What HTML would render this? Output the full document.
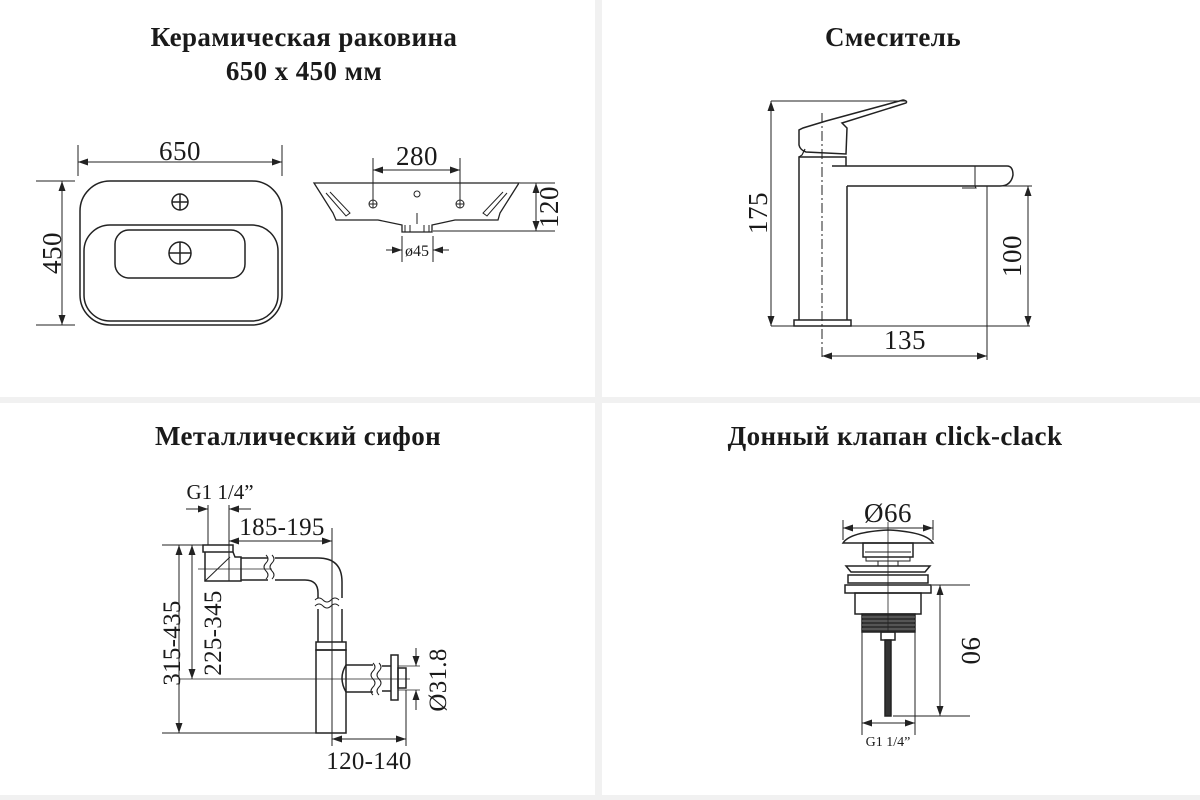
<!DOCTYPE html>
<html><head><meta charset="utf-8"><style>
html,body{margin:0;padding:0;background:#fff}
svg{display:block}
text{font-family:"Liberation Serif","DejaVu Serif",serif;fill:#1a1a1a}
.t{font-weight:bold;font-size:27px;letter-spacing:0.4px}
.d{font-size:27px;letter-spacing:0.5px}
.s{font-size:25px;letter-spacing:0.3px}
</style></head><body>
<svg width="1200" height="800" viewBox="0 0 1200 800" xmlns="http://www.w3.org/2000/svg">
<defs>
<marker id="a" viewBox="0 0 10 10" refX="10" refY="5" markerWidth="10" markerHeight="10" orient="auto-start-reverse" markerUnits="userSpaceOnUse"><path d="M0,1.5 L10,5 L0,8.5 z" fill="#222"/></marker>
</defs>
<rect width="1200" height="800" fill="#fff"/>
<rect x="595" y="0" width="7" height="800" fill="#f1f1f1"/>
<rect x="0" y="397" width="1200" height="6" fill="#f1f1f1"/>
<rect x="0" y="795" width="1200" height="5" fill="#f1f1f1"/>

<text class="t" x="304" y="46" text-anchor="middle">Керамическая раковина</text>
<text class="t" x="304" y="80" text-anchor="middle">650 x 450 мм</text>
<text class="t" x="893" y="46" text-anchor="middle">Смеситель</text>
<text class="t" x="298" y="445" text-anchor="middle">Металлический сифон</text>
<text class="t" x="895" y="445" text-anchor="middle">Донный клапан click-clack</text>

<g stroke="#222" stroke-width="1.5" fill="none">
<!-- sink top view -->
<line x1="78" y1="145" x2="78" y2="176" stroke-width="1"/>
<line x1="282" y1="145" x2="282" y2="176" stroke-width="1"/>
<line x1="78" y1="162" x2="282" y2="162" stroke-width="1" marker-start="url(#a)" marker-end="url(#a)"/>
<line x1="36" y1="181" x2="75" y2="181" stroke-width="1"/>
<line x1="36" y1="325" x2="75" y2="325" stroke-width="1"/>
<line x1="62" y1="181" x2="62" y2="325" stroke-width="1" marker-start="url(#a)" marker-end="url(#a)"/>
<rect x="80" y="181" width="202" height="144" rx="30"/>
<rect x="84" y="225" width="194" height="96" rx="26"/>
<rect x="115" y="230" width="130" height="48" rx="14"/>
<circle cx="180" cy="202" r="8"/><path d="M172 202h16M180 194v16"/>
<circle cx="180" cy="253" r="11"/><path d="M169 253h22M180 242v22"/>

<!-- sink side view -->
<path d="M314 183 L519 183 L500 213 L498 220 L455 220 L432 225 L432 232 L402 232 L402 225 L378 220 L336 220 L333 213 Z" stroke-width="1.3"/>
<path d="M330 192 L350 213 L346 216 L326 193" stroke-width="1"/>
<path d="M503 192 L483 213 L487 216 L507 193" stroke-width="1"/>
<path d="M405 225 L405 232 M429 225 L429 232 M410 225 L410 232 M424 225 L424 232" stroke-width="1"/>
<line x1="373" y1="158" x2="373" y2="200" stroke-width="1"/>
<line x1="460" y1="158" x2="460" y2="200" stroke-width="1"/>
<line x1="373" y1="170" x2="460" y2="170" stroke-width="1" marker-start="url(#a)" marker-end="url(#a)"/>
<circle cx="373" cy="204" r="4" stroke-width="1"/><path d="M369 204h8M373 200v8" stroke-width="1"/>
<circle cx="460" cy="204" r="4" stroke-width="1"/><path d="M456 204h8M460 200v8" stroke-width="1"/>
<circle cx="417" cy="194" r="3" stroke-width="1"/>
<line x1="417" y1="213" x2="417" y2="224" stroke-width="1"/>
<line x1="520" y1="183" x2="555" y2="183" stroke-width="1"/>
<line x1="433" y1="231" x2="555" y2="231" stroke-width="1"/>
<line x1="536" y1="183" x2="536" y2="231" stroke-width="1" marker-start="url(#a)" marker-end="url(#a)"/>
<line x1="402" y1="236" x2="402" y2="262" stroke-width="1"/>
<line x1="433" y1="236" x2="433" y2="262" stroke-width="1"/>
<line x1="386" y1="250" x2="402" y2="250" stroke-width="1" marker-end="url(#a)"/>
<line x1="449" y1="250" x2="433" y2="250" stroke-width="1" marker-end="url(#a)"/>

<!-- faucet -->
<line x1="771" y1="101" x2="906" y2="101" stroke-width="1"/>
<line x1="771" y1="326" x2="1030" y2="326" stroke-width="1"/>
<line x1="771" y1="101" x2="771" y2="326" stroke-width="1" marker-start="url(#a)" marker-end="url(#a)"/>
<rect x="794" y="320" width="57" height="6"/>
<path d="M799 320 L799 157 L846 157 L846 166 M847 186 L847 320"/>
<path d="M832 166 L1007 166 Q1013 166 1013 175 Q1011 186 1000 186 L847 186"/>
<path d="M975 166 L975 186 M975 186 L976 188 L962 188" stroke-width="1"/>
<path d="M799 130 L799 145 Q800 150 806 152 L846 154 L847 128 L842 123 L906 103 Q908 101 903 100 L826 121 L803 128 Z"/>
<path d="M805 149 L802 155 L799 157" stroke-width="1.2"/>
<line x1="822" y1="113" x2="822" y2="360" stroke-width="1" stroke-dasharray="10 3 2 3"/>
<line x1="987" y1="186" x2="987" y2="360" stroke-width="1"/>
<line x1="822" y1="356" x2="987" y2="356" stroke-width="1" marker-start="url(#a)" marker-end="url(#a)"/>
<line x1="975" y1="186" x2="1032" y2="186" stroke-width="1"/>
<line x1="1028" y1="186" x2="1028" y2="326" stroke-width="1" marker-start="url(#a)" marker-end="url(#a)"/>

<!-- siphon -->
<line x1="208" y1="505" x2="208" y2="545" stroke-width="1"/>
<line x1="229" y1="505" x2="229" y2="545" stroke-width="1"/>
<line x1="186" y1="509" x2="208" y2="509" stroke-width="1" marker-end="url(#a)"/>
<line x1="251" y1="509" x2="229" y2="509" stroke-width="1" marker-end="url(#a)"/>
<line x1="229" y1="541" x2="332" y2="541" stroke-width="1" marker-start="url(#a)" marker-end="url(#a)"/>
<line x1="332" y1="528" x2="332" y2="746" stroke-width="1"/>
<rect x="203" y="545" width="30" height="7"/>
<path d="M205 552 L205 581 L241 581 L241 557 L235 557 L233 552"/>
<path d="M205 581 L230 557" stroke-width="1"/>
<line x1="229" y1="545" x2="229" y2="581" stroke-width="1"/>
<line x1="198" y1="569" x2="272" y2="569" stroke-width="0.8"/>
<path d="M241 558 L268 558 M241 580 L268 580"/>
<path d="M266 555 q4 4 0 8 q-4 4 0 8 q4 4 0 8 M272 555 q4 4 0 8 q-4 4 0 8 q4 4 0 8" stroke-width="1"/>
<path d="M275 558 L318 558 Q342 558 342 582 L342 598 M275 580 L305 580 Q318 580 318 593 L318 598"/>
<path d="M315 600 q4 -4 8 0 q4 4 8 0 q4 -4 8 0 M315 606 q4 -4 8 0 q4 4 8 0 q4 -4 8 0" stroke-width="1"/>
<path d="M318 609 L318 642 M342 609 L342 642"/>
<rect x="316" y="642" width="30" height="8"/>
<rect x="316" y="650" width="30" height="83"/>
<path d="M346 665 L373 665 M346 692 L373 692 M346 665 Q338 678 346 692" />
<path d="M373 663 q4 4 0 8 q-4 4 0 8 q4 4 0 8 q-4 4 0 8 M379 663 q4 4 0 8 q-4 4 0 8 q4 4 0 8 q-4 4 0 8" stroke-width="1"/>
<path d="M382 666 L391 666 M382 691 L391 691"/>
<rect x="391" y="655" width="7" height="45"/>
<rect x="398" y="668" width="8" height="20"/>
<line x1="180" y1="679" x2="410" y2="679" stroke-width="0.8"/>
<line x1="416" y1="648" x2="416" y2="666" stroke-width="1" marker-end="url(#a)"/>
<line x1="416" y1="710" x2="416" y2="690" stroke-width="1" marker-end="url(#a)"/>
<line x1="398" y1="666" x2="420" y2="666" stroke-width="0.8"/>
<line x1="398" y1="690" x2="420" y2="690" stroke-width="0.8"/>
<line x1="162" y1="545" x2="205" y2="545" stroke-width="1"/>
<line x1="162" y1="733" x2="316" y2="733" stroke-width="1"/>
<line x1="179" y1="545" x2="179" y2="733" stroke-width="1" marker-start="url(#a)" marker-end="url(#a)"/>
<line x1="192" y1="545" x2="192" y2="679" stroke-width="1" marker-start="url(#a)" marker-end="url(#a)"/>
<line x1="406" y1="690" x2="406" y2="746" stroke-width="1"/>
<line x1="332" y1="739" x2="406" y2="739" stroke-width="1" marker-start="url(#a)" marker-end="url(#a)"/>

<!-- drain valve -->
<line x1="843" y1="520" x2="843" y2="540" stroke-width="1"/>
<line x1="933" y1="520" x2="933" y2="540" stroke-width="1"/>
<line x1="843" y1="528" x2="933" y2="528" stroke-width="1" marker-start="url(#a)" marker-end="url(#a)"/>
<path d="M843 543 Q850 532 888 530 Q926 532 933 543 Z"/>
<rect x="863" y="543" width="50" height="14"/>
<path d="M865 552 L911 552 M866 557 L910 557 L910 561 L866 561 Z" stroke-width="1"/>
<path d="M878 561 L878 566 M898 561 L898 566" stroke-width="1"/>
<path d="M846 566 L930 566 L925 572 L851 572 Z"/>
<rect x="848" y="575" width="80" height="8"/>
<rect x="845" y="585" width="86" height="8"/>
<rect x="855" y="593" width="66" height="21"/>
<rect x="862" y="614" width="53" height="18" fill="#333"/>
<path d="M862 617h53M862 621h53M862 625h53M862 629h53" stroke="#777" stroke-width="1"/>
<rect x="881" y="632" width="14" height="8"/>
<rect x="885" y="640" width="6" height="76" fill="#333"/>
<line x1="888" y1="522" x2="888" y2="632" stroke-width="0.8"/>
<line x1="862" y1="632" x2="862" y2="735" stroke-width="1"/>
<line x1="915" y1="632" x2="915" y2="735" stroke-width="1"/>
<line x1="862" y1="723" x2="915" y2="723" stroke-width="1" marker-start="url(#a)" marker-end="url(#a)"/>
<line x1="932" y1="585" x2="970" y2="585" stroke-width="1"/>
<line x1="893" y1="716" x2="970" y2="716" stroke-width="1"/>
<line x1="940" y1="585" x2="940" y2="716" stroke-width="1" marker-start="url(#a)" marker-end="url(#a)"/>
</g>

<text class="d" x="180" y="160" text-anchor="middle">650</text>
<text class="d" transform="translate(61,253) rotate(-90)" text-anchor="middle">450</text>
<text class="d" x="417" y="165" text-anchor="middle">280</text>
<text class="d" transform="translate(558,207) rotate(-90)" text-anchor="middle">120</text>
<text x="417" y="256" text-anchor="middle" style="font-size:16px">ø45</text>
<text class="d" transform="translate(767,213) rotate(-90)" text-anchor="middle">175</text>
<text class="d" transform="translate(1021,256) rotate(-90)" text-anchor="middle">100</text>
<text class="d" x="905" y="349" text-anchor="middle">135</text>
<text x="220" y="499" text-anchor="middle" style="font-size:21px">G1 1/4”</text>
<text class="s" x="282" y="535" text-anchor="middle">185-195</text>
<text class="s" transform="translate(180,643) rotate(-90)" text-anchor="middle">315-435</text>
<text class="s" transform="translate(221,633) rotate(-90)" text-anchor="middle">225-345</text>
<text class="s" transform="translate(446,680) rotate(-90)" text-anchor="middle">Ø31.8</text>
<text class="s" x="369" y="769" text-anchor="middle">120-140</text>
<text class="d" x="888" y="522" text-anchor="middle">Ø66</text>
<text class="d" transform="translate(962,651) rotate(90)" text-anchor="middle">90</text>
<text x="888" y="746" text-anchor="middle" style="font-size:14px">G1 1/4”</text>
</svg>
</body></html>
